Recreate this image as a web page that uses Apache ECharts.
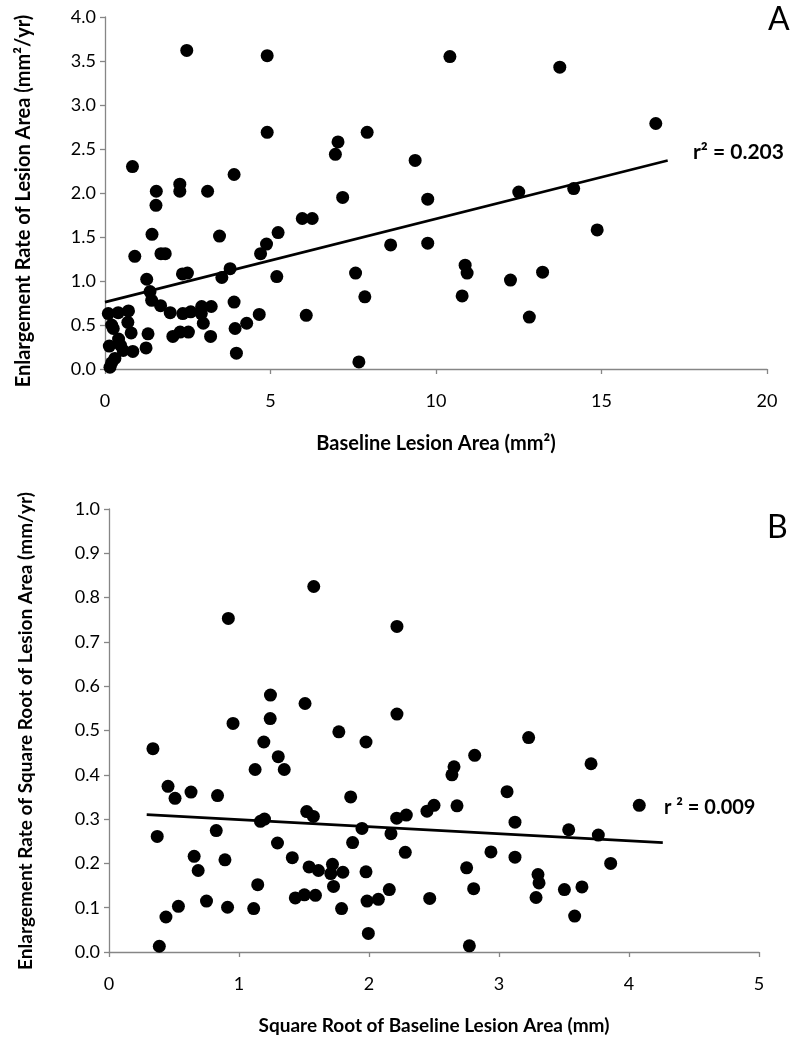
<!DOCTYPE html>
<html>
<head>
<meta charset="utf-8">
<script src="https://cdn.jsdelivr.net/npm/echarts@6/dist/echarts.min.js"></script>
<style>
html,body{margin:0;padding:0;background:#fff;}
#chart{width:800px;height:1042px;}
</style>
</head>
<body>
<div id="chart"></div>
<script>
// Panel A: baseline lesion area (mm²) vs enlargement rate (mm²/yr)
const areaA_x = [2.47,4.90,4.90,7.04,6.96,0.83,3.90,2.26,2.26,1.55,3.10,1.54,7.18,5.96,6.26,1.42,3.46,5.23,4.88,4.70,0.90,1.69,1.82,3.78,2.34,2.49,3.53,5.19,1.26,1.36,1.41,1.68,3.90,0.10,0.40,0.71,1.97,2.35,2.59,2.92,3.21,2.91,4.66,6.08,0.69,2.97,4.28,0.20,0.25,0.79,1.30,3.93,2.05,2.27,2.52,3.19,0.41,0.13,0.47,0.55,0.84,1.24,3.97,0.30,0.20,0.15,
  10.42,13.74,16.64,7.92,9.37,9.75,12.50,14.16,14.87,8.63,9.75,7.57,7.85,10.88,10.94,10.79,12.25,13.22,12.82,7.67];
const areaA_y = [3.62,3.56,2.69,2.58,2.44,2.30,2.21,2.10,2.02,2.02,2.02,1.86,1.95,1.71,1.71,1.53,1.51,1.55,1.42,1.31,1.28,1.31,1.31,1.14,1.08,1.09,1.04,1.05,1.02,0.88,0.78,0.72,0.76,0.63,0.64,0.66,0.64,0.63,0.65,0.71,0.71,0.63,0.62,0.61,0.53,0.52,0.52,0.50,0.46,0.41,0.40,0.46,0.37,0.42,0.42,0.37,0.34,0.26,0.27,0.21,0.20,0.24,0.18,0.12,0.07,0.02,
  3.55,3.43,2.79,2.69,2.37,1.93,2.01,2.05,1.58,1.41,1.43,1.09,0.82,1.18,1.09,0.83,1.01,1.10,0.59,0.08];
const trendA_x = [0, 17.0];
const trendA_y = [0.76, 2.37];
const r2A = "r² = 0.203";

// Panel B: square root of baseline area (mm) vs enlargement rate (mm/yr)
const sqrtB_x = [1.575,0.918,1.242,1.508,1.240,0.954,1.768,1.191,0.338,1.302,1.124,1.348,0.454,0.631,0.508,0.835,1.521,1.572,1.165,1.196,0.371,0.825,1.296,1.410,0.655,0.892,0.686,1.539,1.611,1.719,1.706,1.799,1.727,1.144,0.750,0.534,0.912,1.113,1.433,1.503,1.588,1.789,0.438,0.387,
  2.215,2.215,1.977,3.228,2.813,3.708,2.654,2.638,3.062,1.859,4.079,2.677,2.446,2.500,2.213,2.287,3.123,1.946,2.169,3.536,3.764,1.874,2.279,2.938,3.123,3.859,1.977,2.751,3.300,3.308,2.156,2.805,3.503,3.638,1.985,2.072,2.467,3.285,3.582,1.995,2.772];
const sqrtB_y = [0.825,0.753,0.580,0.561,0.527,0.516,0.497,0.474,0.459,0.441,0.412,0.412,0.374,0.361,0.347,0.353,0.317,0.306,0.295,0.300,0.261,0.274,0.246,0.213,0.216,0.208,0.184,0.192,0.184,0.198,0.177,0.180,0.148,0.152,0.115,0.103,0.101,0.098,0.122,0.129,0.128,0.098,0.079,0.013,
  0.735,0.537,0.474,0.484,0.444,0.425,0.418,0.400,0.362,0.350,0.331,0.330,0.318,0.331,0.302,0.309,0.293,0.279,0.267,0.276,0.264,0.247,0.225,0.226,0.214,0.200,0.181,0.190,0.175,0.156,0.141,0.143,0.141,0.147,0.115,0.119,0.121,0.123,0.081,0.042,0.014];
const trendB_x = [0.29, 4.26];
const trendB_y = [0.310, 0.247];
const r2B = "r ² = 0.009";

const yTicksA = {min:0, max:4, interval:0.5};
const xTicksA = {min:0, max:20, interval:5};
const yTicksB = {min:0, max:1, interval:0.1};
const xTicksB = {min:0, max:5, interval:1};

const titleAx = 'Baseline Lesion Area (mm²)';
const titleAy = 'Enlargement Rate of Lesion Area (mm²/yr)';
const titleBx = 'Square Root of Baseline Lesion Area (mm)';
const titleBy = 'Enlargement Rate of Square Root of Lesion Area (mm/yr)';

const FONT = 'Lato, "Open Sans", sans-serif';
const axisGray = '#868686';

function pairs(xs, ys){ return xs.map((x,i)=>[x, ys[i]]); }

function xAxisCfg(idx, t, name, gap, nameSize){
  return {
    type:'value', gridIndex: idx, min:t.min, max:t.max, interval:t.interval,
    name: name, nameLocation:'middle', nameGap: gap,
    nameTextStyle:{fontFamily:FONT, fontWeight:'bold', fontSize:nameSize, color:'#000'},
    axisLine:{show:true, onZero:false, lineStyle:{color:axisGray, width:1.3}},
    axisTick:{show:true, length:5, lineStyle:{color:axisGray, width:1.3}},
    axisLabel:{fontFamily:FONT, fontSize:18, color:'#000', margin:23},
    splitLine:{show:false}
  };
}
function yAxisCfg(idx, t){
  return {
    type:'value', gridIndex: idx, min:t.min, max:t.max, interval:t.interval,
    axisLine:{show:true, onZero:false, lineStyle:{color:axisGray, width:1.3}},
    axisTick:{show:true, length:5, lineStyle:{color:axisGray, width:1.3}},
    axisLabel:{fontFamily:FONT, fontSize:18, color:'#000', margin:9,
      formatter: v => v.toFixed(1)},
    splitLine:{show:false}
  };
}

const chart = echarts.init(document.getElementById('chart'), null, {renderer:'canvas'});
const option = {
  animation:false,
  backgroundColor:'#fff',
  grid:[
    {left:105, top:17, width:662, height:352},
    {left:109, top:509, width:650, height:443}
  ],
  xAxis:[
    xAxisCfg(0, xTicksA, titleAx, 65, 20),
    xAxisCfg(1, xTicksB, titleBx, 64, 19)
  ],
  yAxis:[
    yAxisCfg(0, yTicksA),
    yAxisCfg(1, yTicksB)
  ],
  series:[
    {type:'scatter', xAxisIndex:0, yAxisIndex:0, data:pairs(areaA_x, areaA_y),
     symbol:'circle', symbolSize:13, itemStyle:{color:'#000', opacity:1}},
    {type:'line', xAxisIndex:0, yAxisIndex:0, data:pairs(trendA_x, trendA_y),
     symbol:'none', lineStyle:{color:'#000', width:2.6}, z:3},
    {type:'scatter', xAxisIndex:1, yAxisIndex:1, data:pairs(sqrtB_x, sqrtB_y),
     symbol:'circle', symbolSize:13, itemStyle:{color:'#000', opacity:1}},
    {type:'line', xAxisIndex:1, yAxisIndex:1, data:pairs(trendB_x, trendB_y),
     symbol:'none', lineStyle:{color:'#000', width:2.6}, z:3}
  ],
  graphic:[
    {type:'text', x:24, y:201, rotation:Math.PI/2,
     style:{text:titleAy, font:'bold 20px '+FONT, fill:'#000', textAlign:'center', textVerticalAlign:'middle'}},
    {type:'text', x:26, y:731, rotation:Math.PI/2,
     style:{text:titleBy, font:'bold 19px '+FONT, fill:'#000', textAlign:'center', textVerticalAlign:'middle'}},
    {type:'text', left:693, top:142, style:{text:r2A, font:'bold 21px '+FONT, fill:'#000'}},
    {type:'text', left:664, top:798, style:{text:r2B, font:'bold 20px '+FONT, fill:'#000'}},
    {type:'text', left:768, top:4, style:{text:'A', font:'32px '+FONT, fill:'#000'}},
    {type:'text', left:767, top:512, style:{text:'B', font:'32px '+FONT, fill:'#000'}}
  ]
};
chart.setOption(option);
</script>
</body>
</html>
